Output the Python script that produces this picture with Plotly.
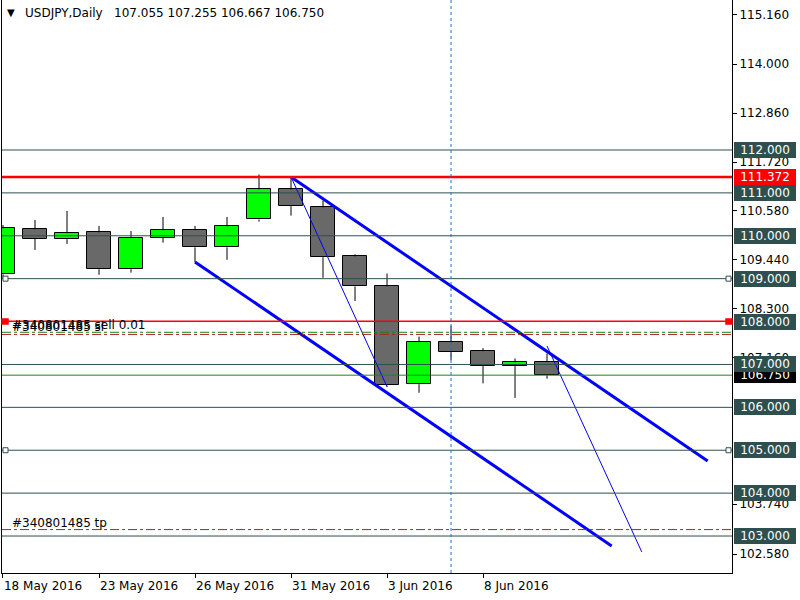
import plotly.graph_objects as go

# ---------------- data ----------------
dates = ["18 May 2016", "19 May 2016", "20 May 2016", "23 May 2016", "24 May 2016",
         "25 May 2016", "26 May 2016", "27 May 2016", "30 May 2016", "31 May 2016",
         "1 Jun 2016", "2 Jun 2016", "3 Jun 2016", "6 Jun 2016", "7 Jun 2016",
         "8 Jun 2016", "9 Jun 2016", "10 Jun 2016"]
opens = [109.10, 110.15, 109.92, 110.08, 109.22, 109.96, 110.13, 109.73, 110.38, 111.08,
         110.66, 109.52, 108.82, 106.54, 107.52, 107.31, 106.96, 107.055]
highs = [110.25, 110.37, 110.58, 110.23, 110.11, 110.44, 110.23, 110.44, 111.43, 111.372,
         110.82, 109.57, 109.12, 107.65, 107.90, 107.38, 107.14, 107.255]
lows = [109.02, 109.67, 109.81, 109.09, 109.14, 109.84, 109.39, 109.44, 110.33, 110.47,
        109.02, 108.48, 106.48, 106.34, 107.10, 106.56, 106.22, 106.667]
closes = [110.17, 109.93, 110.06, 109.22, 109.96, 110.13, 109.73, 110.22, 111.08, 110.69,
          109.50, 108.82, 106.51, 107.52, 107.30, 106.96, 107.05, 106.750]

date_tick_idx = [0, 3, 6, 9, 12, 15]
y_ticks = [115.16, 114.0, 112.86, 111.72, 110.58, 109.44, 108.3, 107.16, 103.74, 102.58]

levels = [112, 111, 110, 109, 108, 107, 106, 105, 104, 103]
red_level = 111.372
red_level2 = 108.0
bid_level = 106.750
entry_level = 107.75
sl_level = 107.70
tp_level = 103.15
ticket = "#340801485"
marked_levels = [109, 105]
vline_idx = 14

# trendlines: (index, value) pairs
channel_upper = ([9, 22.02], [111.372, 104.75])
channel_lower = ([6, 19.02], [109.39, 102.77])
thin_1 = ([9, 12], [111.372, 106.48])
thin_2 = ([17, 19.96], [107.43, 102.63])

x_range = [-0.031, 22.78]
y_range = [102.138, 115.497]

FONT = "DejaVu Sans"
SLATE = "#2F4F4F"

idx = list(range(len(dates)))
fig = go.Figure()

# wicks (upper and lower segments, so they do not cross the bodies)
wx, wy = [], []
for i, o, h, l, c in zip(idx, opens, highs, lows, closes):
    top, bot = max(o, c), min(o, c)
    wx += [i, i, None, i, i, None]
    wy += [top, h, None, l, bot, None]
fig.add_trace(go.Scatter(x=wx, y=wy, mode="lines", line=dict(color="black", width=1),
                         hoverinfo="skip", showlegend=False))

# bodies
fig.add_trace(go.Bar(
    x=idx,
    base=[min(o, c) for o, c in zip(opens, closes)],
    y=[max(abs(c - o), 0.02) for o, c in zip(opens, closes)],
    width=0.75,
    marker=dict(color=["#00FF00" if c >= o else "#696969" for o, c in zip(opens, closes)],
                line=dict(color="black", width=1)),
    showlegend=False, hoverinfo="skip"))

shapes = []
# horizontal levels
for lv in levels:
    shapes.append(dict(type="line", xref="paper", x0=0, x1=1, yref="y", y0=lv, y1=lv,
                       line=dict(color=SLATE, width=1), layer="above"))
shapes.append(dict(type="line", xref="paper", x0=0, x1=1, yref="y", y0=bid_level, y1=bid_level,
                   line=dict(color="#138a13", width=1), layer="above"))
shapes.append(dict(type="line", xref="paper", x0=0, x1=1, yref="y", y0=red_level, y1=red_level,
                   line=dict(color="#FF0000", width=2.5), layer="above"))
shapes.append(dict(type="line", xref="paper", x0=0, x1=1, yref="y", y0=red_level2 + 0.01, y1=red_level2 + 0.01,
                   line=dict(color="#FF0000", width=1.5), layer="above"))
shapes.append(dict(type="line", xref="paper", x0=0, x1=1, yref="y", y0=entry_level, y1=entry_level,
                   line=dict(color="#1e7d1e", width=1, dash="dashdot"), layer="above"))
shapes.append(dict(type="line", xref="paper", x0=0, x1=1, yref="y", y0=sl_level, y1=sl_level,
                   line=dict(color="#b22222", width=1, dash="dashdot"), layer="above"))
shapes.append(dict(type="line", xref="paper", x0=0, x1=1, yref="y", y0=tp_level, y1=tp_level,
                   line=dict(color="#b22222", width=1, dash="dashdot"), layer="above"))
# vertical dashed line
shapes.append(dict(type="line", xref="x", x0=vline_idx, x1=vline_idx, yref="paper", y0=0, y1=1,
                   line=dict(color="#1873d3", width=1, dash="3px,3px"), layer="above"))
# selection squares
for lv in marked_levels:
    for xa, x0, x1 in [(0, 1, 6), (1, -6, -1)]:
        shapes.append(dict(type="rect", xref="paper", xsizemode="pixel", xanchor=xa, x0=x0, x1=x1,
                           yref="y", ysizemode="pixel", yanchor=lv, y0=-2.5, y1=2.5,
                           line=dict(color=SLATE, width=1), fillcolor="white", layer="above"))
for xa, x0, x1 in [(0, 0, 6), (1, -6, 0)]:
    shapes.append(dict(type="rect", xref="paper", xsizemode="pixel", xanchor=xa, x0=x0, x1=x1,
                       yref="y", ysizemode="pixel", yanchor=red_level2, y0=-2.5, y1=2.5,
                       line=dict(color="#FF0000", width=1.5), fillcolor="#FF0000", layer="above"))

# trendlines
for (tx, ty), w in [(channel_upper, 3), (channel_lower, 3), (thin_1, 1), (thin_2, 1)]:
    fig.add_trace(go.Scatter(x=tx, y=ty, mode="lines", line=dict(color="#0000FF", width=w),
                             hoverinfo="skip", showlegend=False))

annotations = []
# price labels on the right axis
def price_box(val, bg, fg="white"):
    annotations.append(dict(xref="paper", x=1, xanchor="left", xshift=2, yref="y", y=val,
                            yanchor="middle", text=f"{val:.3f}", showarrow=False,
                            bgcolor=bg, width=60, height=14, borderpad=1, borderwidth=0,
                            align="center", font=dict(family=FONT, size=12, color=fg)))

price_box(bid_level, "black")
for lv in levels:
    price_box(lv, SLATE)
price_box(red_level, "#FF0000")

# order labels
for lv, txt in [(entry_level, ticket + " sell 0.01"), (sl_level, ticket + " sl"), (tp_level, ticket + " tp")]:
    annotations.append(dict(xref="paper", x=0, xanchor="left", xshift=8, yref="y", y=lv,
                            yanchor="bottom", yshift=-2, text=txt, showarrow=False,
                            font=dict(family=FONT, size=12, color="black")))

# title
annotations.append(dict(xref="paper", x=0, xanchor="left", xshift=3, yref="paper", y=1,
                        yanchor="top", yshift=-5, text="▼", showarrow=False,
                        font=dict(family=FONT, size=10, color="black")))
annotations.append(dict(xref="paper", x=0, xanchor="left", xshift=21, yref="paper", y=1,
                        yanchor="top", yshift=-4,
                        text="USDJPY,Daily\u00a0\u00a0 " + " ".join(f"{v:.3f}" for v in
                             [opens[-1], highs[-1], lows[-1], closes[-1]]),
                        showarrow=False, font=dict(family=FONT, size=12, color="black")))

fig.update_layout(
    width=800, height=600,
    margin=dict(l=2, r=68, t=0, b=27),
    paper_bgcolor="white", plot_bgcolor="white",
    shapes=shapes, annotations=annotations,
    bargap=0, showlegend=False,
    font=dict(family=FONT, size=12, color="black"),
    xaxis=dict(range=x_range, tickvals=date_tick_idx, ticktext=[dates[i] for i in date_tick_idx],
               ticks="outside", ticklen=4, tickcolor="black", showgrid=False, zeroline=False,
               showline=True, linecolor="black", linewidth=1, mirror=True,
               ticklabelposition="outside right", ticklabelstandoff=2,
               tickfont=dict(family=FONT, size=12, color="black")),
    yaxis=dict(range=y_range, side="right", tickvals=y_ticks, ticktext=[f"{v:.3f}" for v in y_ticks],
               ticks="outside", ticklen=4, tickcolor="black", showgrid=False, zeroline=False,
               showline=True, linecolor="black", linewidth=1, mirror=True,
               tickfont=dict(family=FONT, size=12, color="black")),
)

fig.write_html("out.html")
